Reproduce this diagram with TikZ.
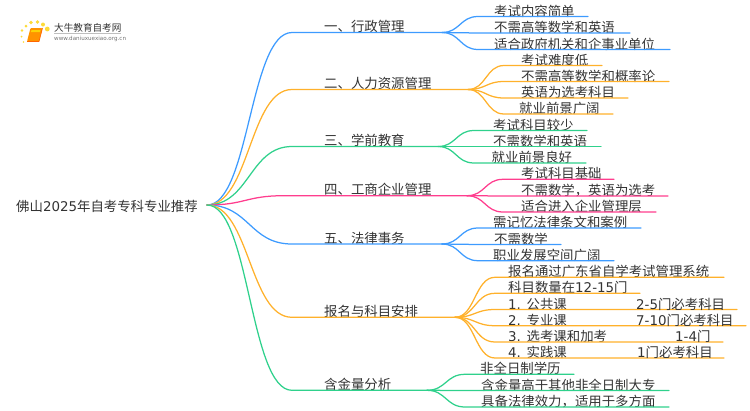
\documentclass[tikz,border=0pt]{standalone}
\usepackage{fontspec}
\setmainfont{Noto Sans CJK SC}
\newfontfamily\latf{DejaVu Sans}
\definecolor{cblue}{HTML}{3D9BFF}
\definecolor{corange}{HTML}{FFB12B}
\definecolor{cgreen}{HTML}{2FD18C}
\definecolor{cpink}{HTML}{FF3D8E}
\definecolor{ctext}{HTML}{333333}
\tikzset{
  linkline/.style={line width=1.25pt,line cap=round},
  txt/.style={inner sep=0pt,anchor=west,text=ctext,font=\fontsize{13.4}{15}\selectfont},
}
\newcommand{\branch}[6]{%
  \def\curj{#1j}\def\curx{#4}\def\cury{#2}\def\curcol{#5}%
  \pgfmathsetmacro{\midx}{(207+#3)/2}%
  \coordinate (#1s) at (#3,#2);
  \coordinate (#1j) at (#4,#2);
  \node[txt] (#1) at (324,#2-6) {#6};
  \draw[linkline,#5] (rootj) .. controls (\midx,205) and (\midx,#2) .. (#1s) -- (#1j);
}
\newcommand{\leaf}[6]{%
  % name, y, line end, text x, curve end offset, text
  \pgfmathsetmacro{\endx}{\curx+#5}%
  \pgfmathsetmacro{\midx}{\curx+#5/2}%
  \coordinate (#1a) at (\endx,#2);
  \coordinate (#1b) at (#3,#2);
  \node[txt] (#1) at (#4,#2-5.5) {#6};
  \draw[linkline,\curcol] (\curj) .. controls (\midx,\cury) and (\midx,#2) .. (#1a) -- (#1b);
}
\begin{document}
\begin{tikzpicture}[x=1pt,y=-1pt]
\useasboundingbox (0,0) rectangle (750,410);
\node[txt] (root) at (16,206) {佛山{\latf 2025}年自考专科专业推荐};
\coordinate (rootj) at (207,205);

\branch{ba}{32.5}{292}{442}{cblue}{一、行政管理}
\leaf{la}{16.5}{588}{494}{36}{考试内容简单}
\leaf{lb}{33}{630}{494}{36}{不需高等数学和英语}
\leaf{lc}{49.5}{670}{494}{36}{适合政府机关和企事业单位}

\branch{bb}{89.5}{292}{468}{corange}{二、人力资源管理}
\leaf{ld}{65.5}{602}{521}{36}{考试难度低}
\leaf{le}{81.5}{669}{521}{36}{不需高等数学和概率论}
\leaf{lf}{98}{628}{521}{36}{英语为选考科目}
\leaf{lg}{114}{613}{519}{36}{就业前景广阔}

\branch{bc}{146.5}{292}{438}{cgreen}{三、学前教育}
\leaf{lh}{130.5}{587}{493}{36}{考试科目较少}
\leaf{li}{146.5}{601}{493}{36}{不需数学和英语}
\leaf{lj}{163}{586}{491.5}{36}{就业前景良好}

\branch{bd}{195.7}{284}{467}{cpink}{四、工商企业管理}
\leaf{lk}{179.3}{614}{521}{36}{考试科目基础}
\leaf{ll}{196}{668}{521}{36}{不需数学，英语为选考}
\leaf{lm}{212}{656}{521}{36}{适合进入企业管理层}

\branch{be}{244}{292}{442}{cblue}{五、法律事务}
\leaf{ln}{228}{641}{493}{36}{需记忆法律条文和案例}
\leaf{lo}{244.5}{561}{494}{36}{不需数学}
\leaf{lp}{260.7}{614}{493}{36}{职业发展空间广阔}

\branch{bf}{317.3}{292}{455}{corange}{报名与科目安排}
\leaf{lq}{277.3}{724}{508}{40}{报名通过广东省自学考试管理系统}
\leaf{lr}{293.3}{640}{508}{40}{科目数量在{\latf 12-15}门}
\leaf{ls}{309.5}{737}{508}{40}{{\latf 1. }公共课}
\leaf{lt}{325.7}{746}{508}{40}{{\latf 2. }专业课}
\leaf{lu}{342}{723}{508}{40}{{\latf 3. }选考课和加考}
\leaf{lv}{358}{724}{508}{40}{{\latf 4. }实践课}
\node[txt] (xs) at (636,304) {{\latf 2-5}门必考科目};
\node[txt] (xt) at (636,320.2) {{\latf 7-10}门必考科目};
\node[txt] (xu) at (675,336.5) {{\latf 1-4}门};
\node[txt] (xv) at (637,352.5) {{\latf 1}门必考科目};

\branch{bg}{390.3}{292}{427}{cgreen}{含金量分析}
\leaf{lw}{374.3}{574}{480}{38}{非全日制学历}
\leaf{lx}{390.5}{669}{481}{38}{含金量高于其他非全日制大专}
\leaf{ly}{407}{669}{481}{38}{具备法律效力，适用于多方面}

% logo
\foreach \px/\py/\pr in {47.3/29/2.4,43/24.5/2,37.5/22/1.9,31/22.5/1.8,26/26/1.5,22/30.5/1.3,21.5/36.5/1,23.5/42/.8}
  \fill[yellow!70!orange,opacity=.8] (\px,\py) circle (\pr);
\fill[orange!85!yellow,rounded corners=1pt] (30.5,28) -- (42.5,28) -- (39,41.5) -- (27,41.5) -- cycle;
\fill[yellow!70!orange] (31.5,30) -- (40.5,30) -- (40,32) -- (31,32) -- cycle;
\draw[orange!80!red,line width=.7pt] (27,41.5) -- (39,41.5) -- (42.5,28);
\node[inner sep=0pt,anchor=west,text=ctext,font=\fontsize{9.6}{11}\selectfont] (logot) at (54,27.5) {大牛教育自考网};
\draw[black!25,line width=.4pt] (logot.south west) ++(0,1) -- ++(67,0);
\node[inner sep=0pt,anchor=west,text=black!55,font=\latf\fontsize{5.6}{7}\selectfont] (logou) at (54,38.7) {www.daniuxuexiao.org.cn};
\end{tikzpicture}
\end{document}
